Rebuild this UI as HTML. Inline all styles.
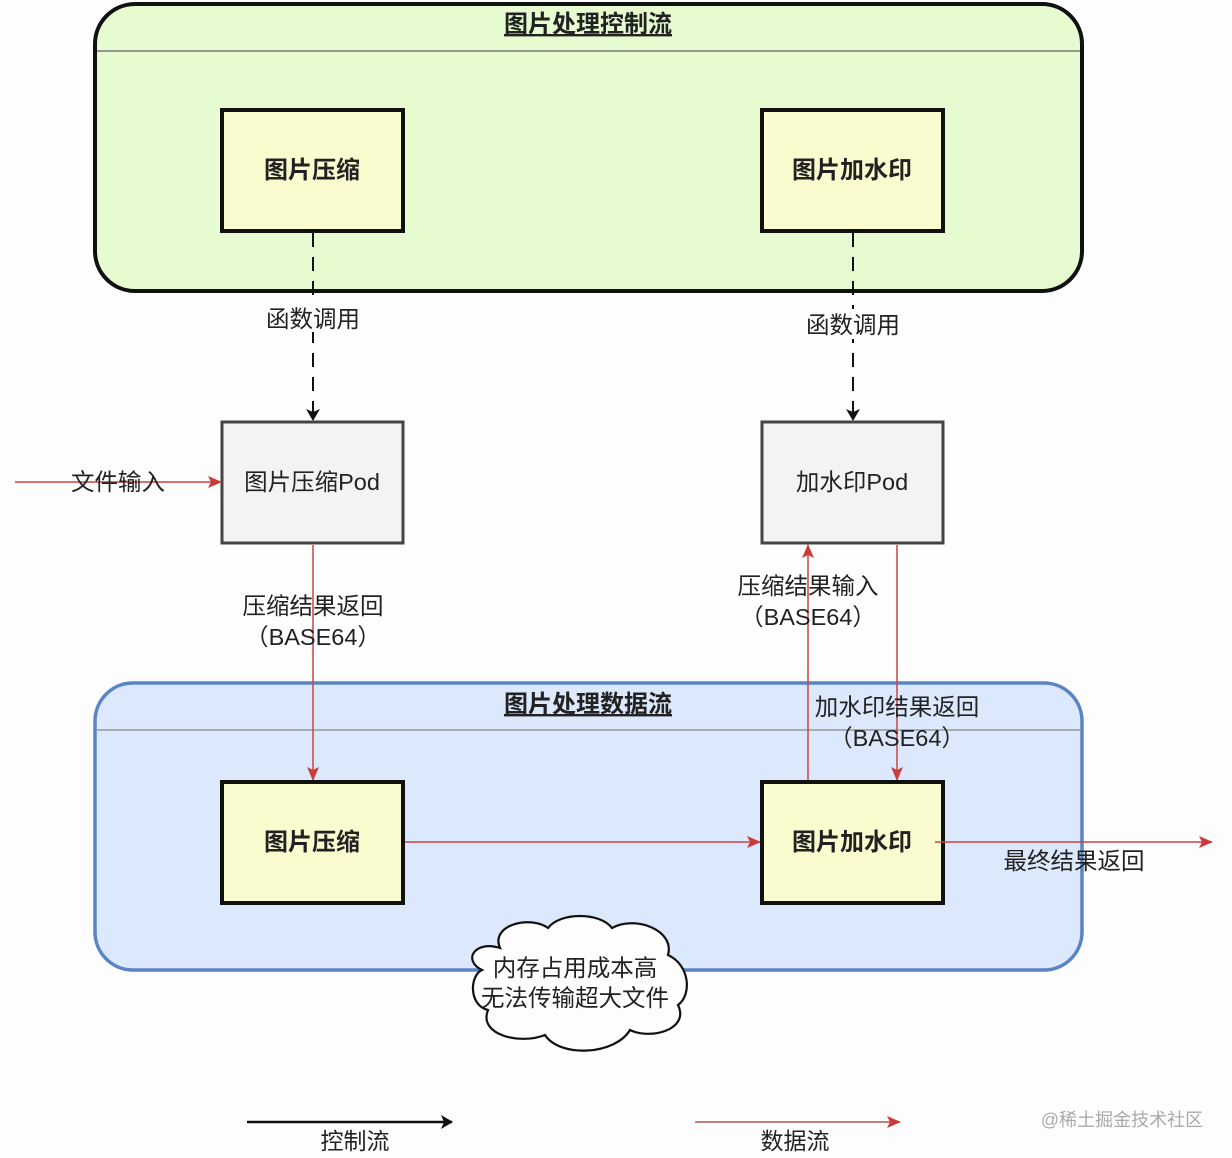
<!DOCTYPE html>
<html><head><meta charset="utf-8"><style>
html,body{margin:0;padding:0;background:#fdfdfd;}
svg{display:block;}
text{font-family:"Liberation Sans","Noto Sans CJK SC",sans-serif;fill:#222;}
</style></head><body>
<svg width="1232" height="1158" viewBox="0 0 1232 1158" xmlns="http://www.w3.org/2000/svg">
<defs>
<marker id="ab" markerWidth="12" markerHeight="14" refX="11" refY="7" orient="auto" markerUnits="userSpaceOnUse"><path d="M0,0 L12,7 L0,14 L3,7 Z" fill="#111"/></marker>
<marker id="ar" markerWidth="14" markerHeight="12" refX="13" refY="6" orient="auto" markerUnits="userSpaceOnUse"><path d="M0,0 L14,6 L0,12 L3,6 Z" fill="#cc3b3b"/></marker>
</defs>
<rect width="1232" height="1158" fill="#fdfdfd"/>
<rect x="95" y="4" width="987" height="287" rx="40" fill="#e6fcd0" stroke="#111" stroke-width="4"/>
<line x1="97" y1="51" x2="1080" y2="51" stroke="#777" stroke-width="1.5"/>
<text x="588" y="32" font-size="24" font-weight="bold" text-anchor="middle" text-decoration="underline">图片处理控制流</text>
<rect x="95" y="683" width="987" height="287" rx="38" fill="#dce8fb" stroke="#5b84c4" stroke-width="3.5"/>
<line x1="97" y1="730" x2="1080" y2="730" stroke="#888" stroke-width="1.2"/>
<text x="588" y="712" font-size="24" font-weight="bold" text-anchor="middle" text-decoration="underline">图片处理数据流</text>
<rect x="222" y="110" width="181" height="121" fill="#fbfbd0" stroke="#111" stroke-width="4"/>
<text x="312" y="178" font-size="24" font-weight="bold" text-anchor="middle">图片压缩</text>
<rect x="762" y="110" width="181" height="121" fill="#fbfbd0" stroke="#111" stroke-width="4"/>
<text x="852" y="178" font-size="24" font-weight="bold" text-anchor="middle">图片加水印</text>
<line x1="313" y1="233" x2="313" y2="420" stroke="#111" stroke-width="2" stroke-dasharray="14,10" marker-end="url(#ab)"/>
<line x1="853" y1="233" x2="853" y2="420" stroke="#111" stroke-width="2" stroke-dasharray="14,10" marker-end="url(#ab)"/>
<rect x="260" y="302" width="106" height="30" fill="#fdfdfd"/>
<text x="313" y="327" font-size="23.5" text-anchor="middle">函数调用</text>
<rect x="800" y="309" width="106" height="30" fill="#fdfdfd"/>
<text x="853" y="333" font-size="23.5" text-anchor="middle">函数调用</text>
<rect x="222" y="422" width="181" height="121" fill="#f3f3f5" stroke="#444" stroke-width="3"/>
<text x="312" y="490" font-size="23.5" text-anchor="middle">图片压缩Pod</text>
<rect x="762" y="422" width="181" height="121" fill="#f3f3f5" stroke="#444" stroke-width="3"/>
<text x="852" y="490" font-size="23.5" text-anchor="middle">加水印Pod</text>
<line x1="15" y1="482" x2="221" y2="482" stroke="#cc4444" stroke-width="1.5" marker-end="url(#ar)"/>
<text x="118" y="490" font-size="23.5" text-anchor="middle">文件输入</text>
<line x1="313" y1="545" x2="313" y2="780" stroke="#cc4444" stroke-width="1.5" marker-end="url(#ar)"/>
<text x="313" y="614" font-size="23.5" text-anchor="middle">压缩结果返回</text>
<text x="313" y="645" font-size="23.5" text-anchor="middle">（BASE64）</text>
<line x1="808" y1="780" x2="808" y2="545" stroke="#cc4444" stroke-width="1.5" marker-end="url(#ar)"/>
<text x="808" y="594" font-size="23.5" text-anchor="middle">压缩结果输入</text>
<text x="808" y="625" font-size="23.5" text-anchor="middle">（BASE64）</text>
<line x1="897" y1="545" x2="897" y2="780" stroke="#cc4444" stroke-width="1.5" marker-end="url(#ar)"/>
<text x="897" y="715" font-size="23.5" text-anchor="middle">加水印结果返回</text>
<text x="897" y="746" font-size="23.5" text-anchor="middle">（BASE64）</text>
<rect x="222" y="782" width="181" height="121" fill="#fbfbd0" stroke="#111" stroke-width="4"/>
<text x="312" y="850" font-size="24" font-weight="bold" text-anchor="middle">图片压缩</text>
<rect x="762" y="782" width="181" height="121" fill="#fbfbd0" stroke="#111" stroke-width="4"/>
<text x="852" y="850" font-size="24" font-weight="bold" text-anchor="middle">图片加水印</text>
<line x1="405" y1="842" x2="760" y2="842" stroke="#cc4444" stroke-width="1.5" marker-end="url(#ar)"/>
<line x1="935" y1="842" x2="1212" y2="842" stroke="#cc4444" stroke-width="1.5" marker-end="url(#ar)"/>
<text x="1074" y="869" font-size="23.5" text-anchor="middle">最终结果返回</text>
<path d="M500,948 C490,925 530,915 548,928 C560,912 600,912 612,928 C635,915 675,930 668,955 C690,965 692,995 678,1005 C690,1030 650,1040 630,1030 C615,1055 560,1058 545,1035 C520,1045 478,1035 488,1010 C468,1005 470,975 482,970 C462,960 475,940 500,948 Z" fill="#fdfdfd" stroke="#111" stroke-width="2.2"/>
<text x="575" y="976" font-size="23.5" text-anchor="middle">内存占用成本高</text>
<text x="575" y="1006" font-size="23.5" text-anchor="middle">无法传输超大文件</text>
<line x1="247" y1="1122" x2="452" y2="1122" stroke="#111" stroke-width="2.5" marker-end="url(#ab)"/>
<text x="355" y="1149" font-size="23" text-anchor="middle">控制流</text>
<line x1="695" y1="1122" x2="900" y2="1122" stroke="#b05555" stroke-width="1.5" marker-end="url(#ar)"/>
<text x="795" y="1149" font-size="23" text-anchor="middle">数据流</text>
<text x="1122" y="1126" font-size="18" text-anchor="middle" style="fill:#aaa">@稀土掘金技术社区</text>
</svg>
</body></html>
